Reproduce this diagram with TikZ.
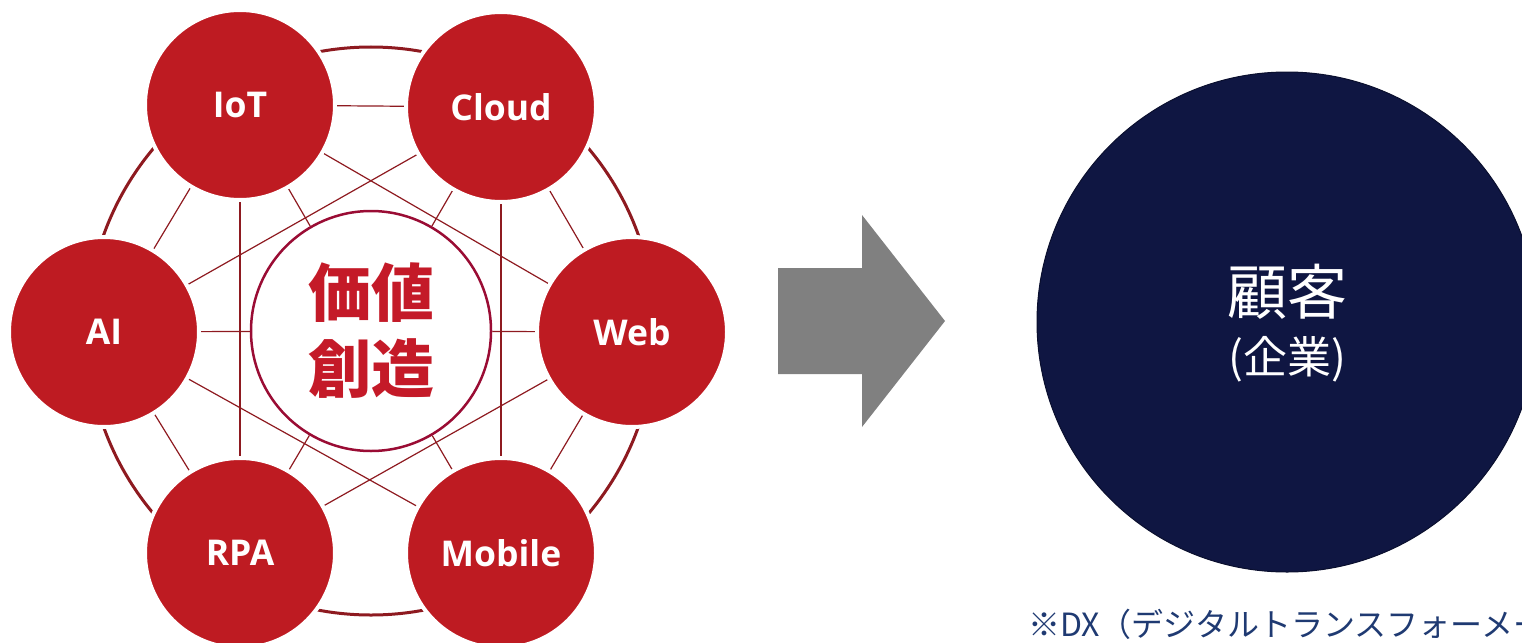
\documentclass[tikz,border=0pt]{standalone}
\usepackage{fontspec}
\setmainfont{Open Sans}
\newfontfamily\jpfont{Noto Sans CJK JP}
\usetikzlibrary{backgrounds}

\definecolor{hubred}{HTML}{BE1B22}
\definecolor{linkred}{HTML}{8E1A20}
\definecolor{corered}{HTML}{9A0C34}
\definecolor{coretext}{HTML}{C41A28}
\definecolor{custnavy}{HTML}{0F1642}
\definecolor{notenavy}{HTML}{1F3A72}
\definecolor{arrowgray}{HTML}{808080}

\begin{document}
\begin{tikzpicture}[x=1pt,y=-1pt,
    hub/.style={circle, fill=hubred, draw=white, line width=4pt, minimum size=190pt,
        inner sep=0pt, text=white, font=\fontsize{35.5}{40}\selectfont\bfseries},
    link/.style={draw=linkred, line width=1.2pt}]

    \useasboundingbox (0,0) rectangle (1522,642);
    \clip (0,0) rectangle (1522,642);

    %hubs
    \foreach \name/\x/\y/\txt in {iot/240/105/IoT, cloud/501/107/Cloud, ai/104/332/AI,
        web/632/332/Web, rpa/240/553/RPA, mobile/501/553/Mobile}{
        \node[hub] (\name) at (\x,\y) {\txt};
    }

    %core
    \node[circle, fill=white, draw=corered, line width=2.5pt, minimum size=240pt,
        inner sep=0pt, align=center, text=coretext,
        font=\jpfont\bfseries\fontsize{63}{76}\selectfont] (core) at (371,331) {価値\\創造};

    %links and ring
    \begin{scope}[on background layer]
        \draw[linkred, line width=3pt] (core.center) circle (284pt);
        \foreach \a/\b in {iot/cloud, iot/ai, iot/rpa, iot/web, iot/core,
            cloud/ai, cloud/mobile, cloud/web, cloud/core,
            ai/core, ai/mobile, ai/rpa,
            web/core, web/rpa, web/mobile,
            rpa/core, mobile/core}{
            \draw[link] (\a) -- (\b);
        }
    \end{scope}

    %arrow
    \fill[arrowgray] (778,268) -- (862,268) -- (862,215) -- (945,321)
        -- (862,427) -- (862,374) -- (778,374) -- cycle;

    %customer
    \node[circle, fill=custnavy, draw=custnavy!70!black, line width=1pt,
        minimum size=500pt] (customer) at (1287,322) {};
    \node[text=white, font=\jpfont\fontsize{60}{60}\selectfont] (kokyaku) at (1287,292) {顧客};
    \node[text=white, font=\jpfont\fontsize{44}{44}\selectfont] (kigyo) at (1287,359) {(企業)};

    %note
    \node[anchor=base west, inner sep=0pt, text=notenavy,
        font=\jpfont\fontsize{32}{32}\selectfont] (note) at (1028,636)
        {※DX（デジタルトランスフォーメーション）};

\end{tikzpicture}
\end{document}
